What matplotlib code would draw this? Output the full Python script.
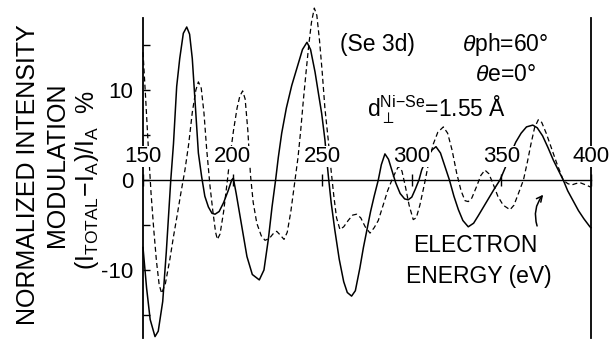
import matplotlib
matplotlib.use("Agg")
import matplotlib.pyplot as plt

plt.rcParams['font.family'] = ['Liberation Sans', 'DejaVu Sans']
plt.rcParams['mathtext.fontset'] = 'custom'
plt.rcParams['mathtext.rm'] = 'Liberation Sans'
plt.rcParams['mathtext.it'] = 'Liberation Sans:italic'

# solid curve
solid_e = [150, 152, 154, 156.7, 158.5, 161, 163, 165.5, 167, 168.8, 170.5, 172.5,
           174.4, 176, 177.5, 179, 180.9, 182.7, 184.5, 186.5, 188.5, 190.2, 192.5,
           195, 197.5, 199.5, 200.4, 202, 205, 208, 211, 214.9, 217.5, 220, 222,
           224, 225.5, 227.4, 230, 233, 236, 239, 241.5, 243.5, 246, 248, 249.7,
           251.5, 253.4, 255, 257, 259.5, 262, 264, 266.4, 268.5, 271, 273, 274.8,
           277, 279, 281.3, 283, 285, 287, 289, 291, 293.5, 296, 298, 300, 302,
           304, 305.5, 308, 311, 313.5, 316, 318.5, 321, 323.5, 326, 328.5, 331.5,
           334.5, 337, 340, 343, 346, 349.2, 352, 355, 358, 361, 364, 367.5, 370,
           373, 376, 379, 382, 384.5, 387, 390, 393, 396, 399.4, 400]
solid_v = [-7.5, -12, -15.5, -17.4, -16.8, -13.5, -8, 0, 4, 10.4, 13.5, 16.3,
           17.0, 16.2, 13.5, 8.9, 3, 0.4, -1.8, -3.0, -3.7, -3.8, -3.5,
           -2.5, -1.2, 0, 0.2, -1.5, -5, -8.5, -10.5, -11.1, -10, -6.5, -3,
           0, 2.5, 5.2, 8, 10.5, 12.5, 14.5, 15.3, 14.5, 12, 9.5, 7.4,
           4.5, 0.5, -2.5, -5.5, -8.8, -11.3, -12.5, -12.9, -12.3, -9.8, -7.5, -5.7,
           -3.5, -1.8, 0, 1.7, 2.9, 2.3, 1, -0.3, -1.5, -2.1, -2.2, -1.9, -1.0,
           0, 1.1, 2.3, 3.3, 3.7, 3.0, 1.5, 0, -1.8, -3.3, -4.5, -5.2,
           -4.8, -4, -3, -2, -1, 0, 1.3, 2.8, 4.2, 5.2, 5.9, 6.1, 5.8,
           4.9, 3.6, 2.2, 1, 0, -1.2, -2.3, -3.4, -4.3, -5.2, -5.3]

# dashed curve
dash_e = [150, 151.5, 153, 154.5, 156, 157.5, 159, 160.4, 162.5, 165, 167, 169,
          171, 173.4, 175.5, 177.5, 179.5, 180.9, 182.5, 184, 185.5, 187.4, 189,
          190.5, 191.5, 193, 195, 197, 198.5, 200.5, 202.5, 204, 205.6, 207,
          208.5, 210, 211.5, 213.5, 216, 218.1, 220.5, 222.5, 224.6, 226.5, 228.7,
          230.5, 232.5, 234.5, 236.5, 238, 239.5, 241, 242.5, 244, 245.6, 247,
          248.5, 250, 251.5, 253.4, 255, 256.5, 258, 259.9, 262, 264.5, 267,
          269.2, 271.5, 274, 276.7, 279, 281.3, 284, 286.5, 289.5, 292.5, 294.5,
          296.5, 298.5, 300.8, 302.5, 304.5, 307, 309.5, 312, 314.5, 317.6, 320,
          322.5, 325, 327.5, 329.7, 331.5, 333.5, 336, 338.5, 340.8, 343, 345.5,
          348, 351, 354.8, 357, 359.5, 362.3, 364.5, 366.5, 368.5, 370.6, 372.5,
          375, 378, 381, 384.5, 387, 389.2, 391.5, 393.9, 396.5, 399.4, 400]
dash_v = [14.2, 9, 3.5, -1.5, -5.5, -9, -11.6, -12.6, -11.5, -8.8, -6.3, -4,
          -1.6, 1.1, 4, 7.5, 10, 10.9, 10.2, 7.5, 3.5, -0.7, -3.5,
          -5.8, -6.6, -6.0, -3.5, -0.2, 2.5, 5.5, 8, 9.3, 9.9, 9,
          5.5, 0.5, -2.5, -4.8, -6.2, -6.7, -6.5, -6.0, -5.7, -6.1, -6.6,
          -5.8, -3.5, -0.5, 2.5, 5.5, 8.9, 12, 15, 17.5, 19.1, 18.3,
          15.5, 12, 8, 4.4, 1, -1.8, -4.2, -5.5, -5.2, -4.5, -3.9,
          -3.8, -4.2, -5.2, -5.9, -5.3, -4.5, -2.8, -1.2, 0.3, 1.5, 1.0,
          -0.8, -2.8, -4.4, -4.2, -2.8, -0.5, 2, 4, 5.3, 5.9, 5.2,
          3.3, 0.8, -1.2, -2.3, -2.4, -2.0, -0.8, 0.5, 1.1, 0.7, -0.5,
          -1.8, -2.8, -3.3, -2.8, -1.5, 0, 2, 4, 5.8, 6.7, 6.4,
          5.2, 3.5, 1.8, 0, -0.4, -0.55, -0.4, -0.3, -0.5, -0.75, -0.8]

x_ticks = [150, 200, 250, 300, 350, 400]
y_ticks = [-15, -10, -5, 0, 5, 10, 15]
y_tick_labels = ['', '-10', '', '0', '', '10', '']

fig = plt.figure(figsize=(6.11, 3.41), dpi=100)
ax = fig.add_axes([143 / 611, 1 - 338.4 / 341, 448 / 611, 320.4 / 341])

ax.plot(solid_e, solid_v, color='black', lw=1.1, zorder=3, clip_on=False)
ax.plot(dash_e, dash_v, color='black', lw=0.9, ls=(0, (4, 2.5)), zorder=3,
        clip_on=False)

ax.set_xlim(150, 400)
ax.set_ylim(-17.6, 18)

# zero line carries the energy axis, labels above it
ax.spines['bottom'].set_visible(False)
ax.spines['top'].set_position(('data', 0))
ax.spines['top'].set_linewidth(1.0)
ax.spines['left'].set_linewidth(1.3)
ax.spines['right'].set_linewidth(1.3)
ax.xaxis.set_ticks_position('top')
ax.set_xticks(x_ticks)
ax.set_xticklabels([str(t) for t in x_ticks])
ax.tick_params(axis='x', direction='inout', length=9, width=1, pad=5, labelsize=16)
ax.xaxis.set_zorder(4)
for lab in ax.get_xticklabels():
    lab.set_bbox(dict(facecolor='white', edgecolor='none', pad=0.1))

ax.set_yticks(y_ticks)
ax.set_yticklabels(y_tick_labels)
ax.tick_params(axis='y', direction='in', length=5, width=1, pad=7, labelsize=16)

fs = 18
fig.text(28 / 611, 1 - 175 / 341, 'NORMALIZED INTENSITY', rotation=90,
         ha='center', va='center', fontsize=fs)
fig.text(57 / 611, 1 - 165 / 341, 'MODULATION', rotation=90,
         ha='center', va='center', fontsize=fs)
fig.text(87 / 611, 1 - 180 / 341,
         r'$\mathregular{(I_{TOTAL}\!-\!I_A)/I_A}$  %', rotation=90,
         ha='center', va='center', fontsize=fs)

ax.text(280.8, 15.1, '(Se 3d)', ha='center', va='center', fontsize=16.5)
ax.text(352, 15.0, r'$\theta$ph=60°', ha='center', va='center', fontsize=16.5)
ax.text(352, 11.7, r'$\theta$e=0°', ha='center', va='center', fontsize=16.5)
ax.text(275, 6.9, r'$\mathregular{d_{\perp}^{Ni{-}Se}}$=1.55 Å', ha='left',
        va='baseline', fontsize=16.5)
ax.text(335.3, -7.3, 'ELECTRON', ha='center', va='center', fontsize=16.5)
ax.text(337.5, -10.7, 'ENERGY (eV)', ha='center', va='center', fontsize=16.5)
ax.annotate('', xy=(374.3, -1.4), xytext=(370.4, -5.4),
            arrowprops=dict(arrowstyle='->', lw=1.1, color='black',
                            connectionstyle='arc3,rad=-0.3'))

fig.savefig('out.png', dpi=100)
